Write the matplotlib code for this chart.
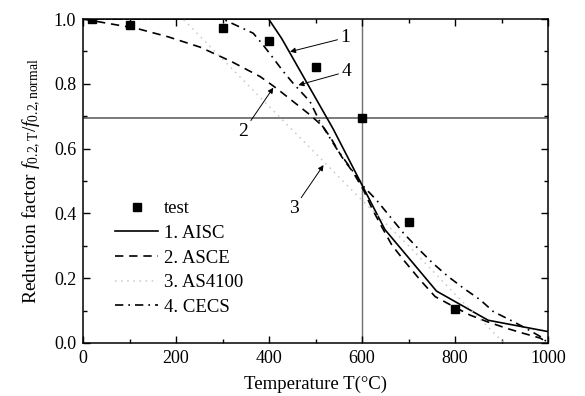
import numpy as np
import matplotlib
matplotlib.use("Agg")
from matplotlib import pyplot as plt

plt.rcParams["font.family"] = ["Liberation Serif", "DejaVu Serif"]
plt.rcParams["mathtext.fontset"] = "custom"
plt.rcParams["mathtext.rm"] = "Liberation Serif"
plt.rcParams["mathtext.it"] = "Liberation Serif:italic"

# test results
test_T = [20, 100, 300, 400, 500, 600, 700, 800]
test_k = [1.0, 0.98, 0.973, 0.933, 0.852, 0.694, 0.373, 0.105]

# 1. AISC
aisc_T = [20, 399, 427, 538, 649, 760, 871, 1000]
aisc_k = [1.0, 1.0, 0.94, 0.66, 0.35, 0.16, 0.07, 0.035]

# 2. ASCE
asce_T = [0, 115, 183, 252, 320, 381, 416, 452, 488, 516, 535, 556, 581, 603,
          623, 642, 664, 692, 725, 757, 797, 832, 868, 911, 946, 983, 1000]
asce_k = [1.0, 0.971, 0.945, 0.913, 0.868, 0.822, 0.786, 0.745, 0.704, 0.668,
          0.627, 0.575, 0.526, 0.472, 0.41, 0.359, 0.302, 0.251, 0.194, 0.143,
          0.112, 0.086, 0.066, 0.045, 0.03, 0.015, 0.0]

# 3. AS4100
as4100_T = [20, 215, 400, 600, 700, 800, 905]
as4100_k = [1.0, 1.0, 0.73, 0.44, 0.30, 0.15, 0.0]

# 4. CECS
cecs_T = [20, 300, 366, 387, 409, 431, 452, 488, 509, 545, 575, 605, 631, 660,
          689, 720, 752, 785, 818, 854, 882, 918, 946, 983, 1000]
cecs_k = [1.0, 1.0, 0.956, 0.92, 0.879, 0.837, 0.801, 0.745, 0.683, 0.6, 0.54,
          0.48, 0.441, 0.39, 0.339, 0.292, 0.246, 0.205, 0.169, 0.133, 0.097,
          0.071, 0.05, 0.02, 0.0]

fig = plt.figure(figsize=(5.85, 3.96), dpi=100)
ax = fig.add_axes([0.142, 0.134, 0.795, 0.818])

ax.axhline(0.694, color="#707070", lw=1.3, zorder=1)
ax.axvline(600, color="#707070", lw=1.0, zorder=1)

ax.plot(test_T, test_k, "s", color="k", ms=5.5, ls="none", label="test", zorder=5)
ax.plot(aisc_T, aisc_k, color="k", lw=1.2, label="1. AISC")
ax.plot(asce_T, asce_k, color="k", lw=1.2, ls=(0, (5, 3.5)), label="2. ASCE")
ax.plot(as4100_T, as4100_k, color="#c8c8c8", lw=1.1, ls=(0, (1, 3)), label="3. AS4100")
ax.plot(cecs_T, cecs_k, color="k", lw=1.2, ls=(0, (5, 3, 1, 3)), label="4. CECS")

arrow = dict(arrowstyle="-|>", color="k", lw=0.7, mutation_scale=8, shrinkA=0, shrinkB=0)
ax.annotate("1", xy=(445, 0.899), xytext=(553, 0.942), fontsize=14,
            ha="left", va="center", arrowprops=arrow)
ax.annotate("4", xy=(463, 0.796), xytext=(555, 0.837), fontsize=14,
            ha="left", va="center", arrowprops=arrow)
ax.annotate("2", xy=(409, 0.788), xytext=(355, 0.678), fontsize=14,
            ha="right", va="top", arrowprops=arrow)
ax.annotate("3", xy=(517, 0.549), xytext=(463, 0.44), fontsize=14,
            ha="right", va="top", arrowprops=arrow)

ax.set_xlim(0, 1000)
ax.set_ylim(0, 1.0)
ax.set_xticks(np.arange(0, 1001, 200))
ax.set_xticks(np.arange(100, 1000, 200), minor=True)
ax.set_yticks(np.arange(0, 1.01, 0.2))
ax.set_yticks(np.arange(0.1, 1.0, 0.2), minor=True)
ax.set_yticklabels(["0.0", "0.2", "0.4", "0.6", "0.8", "1.0"])
ax.tick_params(which="both", direction="in", top=True, right=True, labelsize=13, width=1.0)
ax.tick_params(which="major", length=5, pad=5)
ax.tick_params(which="minor", length=3)
for s in ax.spines.values():
    s.set_linewidth(1.1)

ax.set_xlabel("Temperature T(\u00b0C)", fontsize=13.5, labelpad=6)
ax.set_ylabel(r"Reduction factor $f_{0.2,\mathrm{T}}/f_{0.2,\mathrm{normal}}$", fontsize=14, labelpad=8)

ax.legend(loc="center left", bbox_to_anchor=(0.069, 0.262), frameon=False, fontsize=13.5,
          handlelength=2.3, handletextpad=0.3, labelspacing=0.4, borderpad=0, borderaxespad=0,
          numpoints=1)

fig.savefig("out.png", dpi=100)
